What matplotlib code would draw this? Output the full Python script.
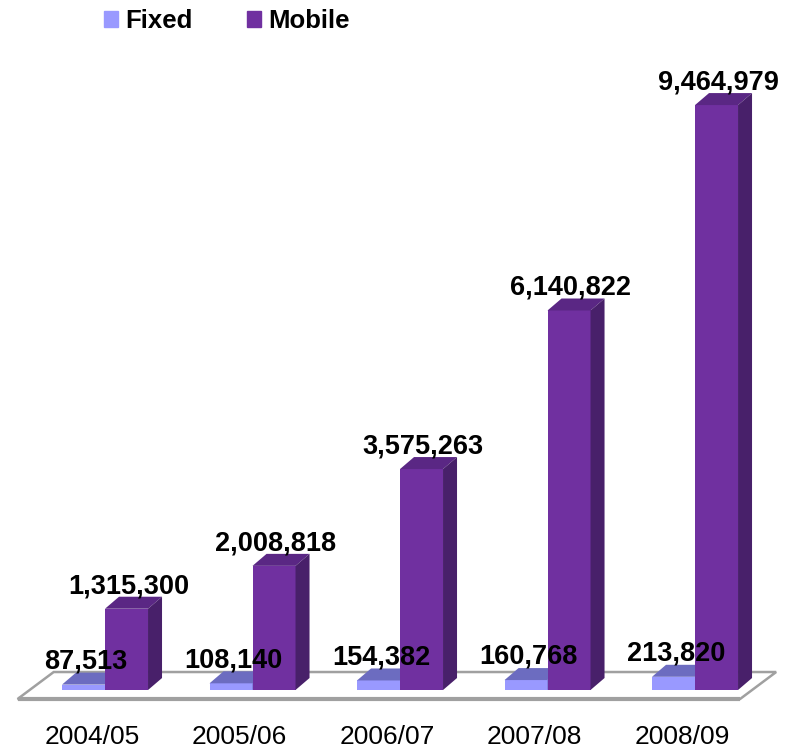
import matplotlib.pyplot as plt
import numpy as np
from matplotlib.patches import Polygon, Patch

plt.rcParams['font.family'] = ['Liberation Sans', 'DejaVu Sans']

years = ['2004/05', '2005/06', '2006/07', '2007/08', '2008/09']
fixed = [87513, 108140, 154382, 160768, 213820]
mobile = [1315300, 2008818, 3575263, 6140822, 9464979]

FIXED_FRONT, FIXED_TOP = '#9999FF', '#6C6CC0'
MOB_FRONT, MOB_TOP, MOB_SIDE = '#7030A0', '#5A2784', '#48206A'

fig = plt.figure(figsize=(7.94, 7.51), dpi=100)
ax = fig.add_axes([0, 0, 1, 1])
ax.set_xlim(-0.712, 4.671)
ax.set_ylim(-987000, 11165000)
ax.axis('off')

idx = np.arange(len(years))
w = 0.2915          # bar width in category units
dx, dy = 0.095, 194000   # depth offset of the 3d faces

# floor under the bars
fx0, fx1 = -0.593, 4.305
fdx, fdy = 0.245, 437000
fy = -146000
floor = Polygon([(fx0, fy), (fx1, fy), (fx1 + fdx, fy + fdy), (fx0 + fdx, fy + fdy)],
                closed=True, facecolor='white', edgecolor='#A0A0A0', lw=1.8, zorder=1)
ax.add_patch(floor)
ax.plot([fx0, fx1], [fy, fy], color='#A0A0A0', lw=3, solid_capstyle='butt', zorder=1.5)


def box(x0, h, front, top, side, z):
    ax.bar(x0, h, w, align='edge', color=front, zorder=z)
    ax.add_patch(Polygon([(x0, h), (x0 + w, h), (x0 + w + dx, h + dy), (x0 + dx, h + dy)],
                         closed=True, facecolor=top, edgecolor='none', zorder=z))
    ax.add_patch(Polygon([(x0 + w, 0), (x0 + w + dx, dy), (x0 + w + dx, h + dy), (x0 + w, h)],
                         closed=True, facecolor=side, edgecolor='none', zorder=z))


for i in idx:
    box(i - w, fixed[i], FIXED_FRONT, FIXED_TOP, FIXED_TOP, 2 + i * 0.1)
    box(i, mobile[i], MOB_FRONT, MOB_TOP, MOB_SIDE, 2.05 + i * 0.1)

for i in idx:
    ax.text(i - w + w / 2 + dx / 2 - 0.03, fixed[i] + dy + 70000, f'{fixed[i]:,}',
            ha='center', va='baseline', fontsize=19.5, fontweight='bold', zorder=5)
    ax.text(i + w / 2 + dx / 2 - 0.035, mobile[i] + dy + 60000, f'{mobile[i]:,}',
            ha='center', va='baseline', fontsize=19.5, fontweight='bold', zorder=5)
    ax.text(i - 0.088, -760000, years[i], ha='center', va='center', fontsize=19)

handles = [Patch(color=FIXED_FRONT, label='Fixed'), Patch(color=MOB_FRONT, label='Mobile')]
fig.legend(handles=handles, loc='center left', bbox_to_anchor=(104 / 794, 1 - 21 / 751),
           ncol=2, frameon=False, prop={'weight': 'bold', 'size': 18.5},
           handlelength=0.55, handleheight=0.55, handletextpad=0.28,
           columnspacing=2.1, borderpad=0, borderaxespad=0)

fig.savefig('out.png', dpi=100)
